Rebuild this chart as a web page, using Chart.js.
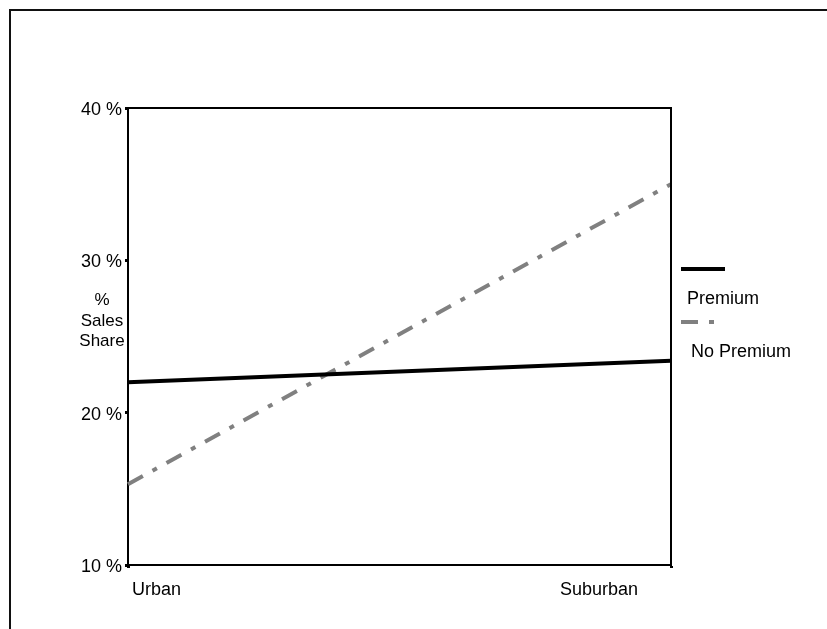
<!DOCTYPE html>
<html>
<head>
<meta charset="utf-8">
<script src="https://cdn.jsdelivr.net/npm/chart.js@4/dist/chart.umd.min.js"></script>
<style>
  html, body { margin: 0; padding: 0; background: #fff; }
  #wrap { position: relative; width: 827px; height: 629px; overflow: hidden; font-family: "Liberation Sans", Arial, sans-serif; color: #000; }
  #frame { position: absolute; left: 9px; top: 9px; width: 830px; height: 640px; border-top: 2px solid #111; border-left: 2px solid #111; box-sizing: border-box; }
  #cv { position: absolute; left: 0; top: 0; }
  .txt { position: absolute; font-size: 18px; line-height: 20px; white-space: nowrap; }
  #ytitle { left: 62px; width: 80px; top: 290px; text-align: center; line-height: 20.5px; font-size: 17px; }
  .sw { position: absolute; height: 4px; }
</style>
</head>
<body>
<div id="wrap">
  <div id="frame"></div>
  <canvas id="cv" width="827" height="629"></canvas>
  <div id="ytitle" class="txt">%<br>Sales<br>Share</div>
  <div class="sw" style="left:681px; top:267px; width:44px; background:#000;"></div>
  <div class="txt" style="left:687px; top:288px;">Premium</div>
  <div class="sw" style="left:681px; top:320px; width:17px; background:#808080;"></div>
  <div class="sw" style="left:709px; top:320px; width:5px; background:#808080;"></div>
  <div class="txt" style="left:691px; top:341px;">No Premium</div>
</div>
<script>
const categories = ['Urban', 'Suburban'];
const premiumValues = [22.0, 23.4];
const noPremiumValues = [15.3, 35.0];
const yTickValues = [10, 20, 30, 40];
const seriesNames = ['Premium', 'No Premium'];

const FONT = { family: '"Liberation Sans", Arial, sans-serif', size: 18 };

const frameBox = {
  id: 'frameBox',
  afterDatasetsDraw(chart) {
    const a = chart.chartArea, ctx = chart.ctx;
    ctx.save();
    ctx.strokeStyle = '#000';
    ctx.lineWidth = 2;
    ctx.beginPath();
    ctx.moveTo(a.left, a.top);
    ctx.lineTo(a.right, a.top);
    ctx.lineTo(a.right, a.bottom);
    ctx.stroke();
    ctx.restore();
  }
};

// category labels: first one starts just right of its tick, last one ends left of its tick
const xLabels = {
  id: 'xLabels',
  afterDraw(chart) {
    const s = chart.scales.x, ctx = chart.ctx;
    ctx.save();
    ctx.font = '18px "Liberation Sans", Arial, sans-serif';
    ctx.fillStyle = '#000';
    ctx.textBaseline = 'middle';
    categories.forEach((c, i) => {
      const px = s.getPixelForTick(i);
      if (i === 0) { ctx.textAlign = 'left'; ctx.fillText(c, px + 4, s.top + 25); }
      else { ctx.textAlign = 'right'; ctx.fillText(c, px - 33, s.top + 25); }
    });
    ctx.restore();
  }
};

new Chart(document.getElementById('cv'), {
  type: 'line',
  data: {
    labels: categories,
    datasets: [
      { label: seriesNames[0], data: premiumValues, borderColor: '#000', borderWidth: 4, pointRadius: 0, tension: 0, fill: false },
      { label: seriesNames[1], data: noPremiumValues, borderColor: '#808080', borderWidth: 4, borderDash: [17, 11, 5, 11], borderCapStyle: 'butt', pointRadius: 0, tension: 0, fill: false }
    ]
  },
  options: {
    responsive: false,
    animation: false,
    devicePixelRatio: 1,
    layout: { padding: { left: 0, top: 108, right: 156, bottom: 0 } },
    plugins: { legend: { display: false }, tooltip: { enabled: false } },
    scales: {
      x: {
        type: 'category',
        offset: false,
        afterFit(s) { s.height = 64; },
        grid: { drawOnChartArea: false, drawTicks: true, tickLength: 3, tickWidth: 3, color: '#000' },
        border: { display: true, color: '#000', width: 2 },
        ticks: { display: false }
      },
      y: {
        type: 'linear',
        min: 10,
        max: 40,
        afterFit(s) { s.width = 128; },
        afterBuildTicks(s) { s.ticks = yTickValues.map(v => ({ value: v })); },
        grid: { drawOnChartArea: false, drawTicks: true, tickLength: 3, tickWidth: 3, color: '#000' },
        border: { display: true, color: '#000', width: 2 },
        ticks: { font: FONT, color: '#000', padding: 3, labelOffset: 2, callback: v => v + ' %' }
      }
    }
  },
  plugins: [frameBox, xLabels]
});
</script>
</body>
</html>
